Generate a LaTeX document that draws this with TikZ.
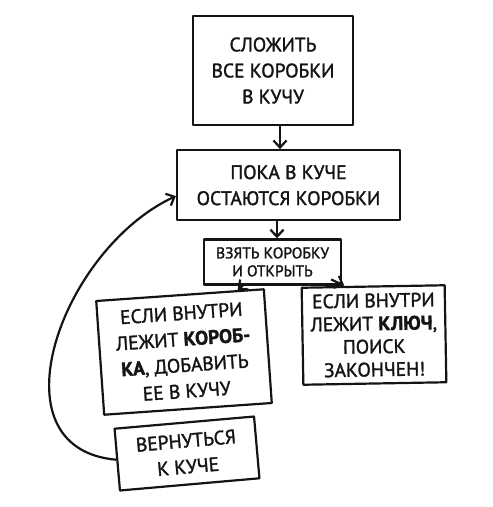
\documentclass[tikz,border=0pt]{standalone}
\usepackage{fontspec}
\setmainfont{PT Sans}[FakeBold=1.6]
\usetikzlibrary{arrows.meta,positioning,calc}
\definecolor{InkDark}{HTML}{141414}

\begin{document}
\begin{tikzpicture}[
    x=1pt, y=1pt,
    node distance=18pt,
    pilebox/.style={draw=InkDark, line width=2.2pt, line join=round, align=center,
                 inner sep=4pt, text=InkDark, font=\fontsize{19.5}{26}\selectfont},
    smallbox/.style={pilebox, font=\fontsize{15.5}{18}\selectfont},
    keybox/.style={pilebox, font=\fontsize{19.5}{23}\selectfont},
    arrow/.style={-{Straight Barb[length=7pt,width=13pt]}, line width=2.2pt, draw=InkDark}
]
\useasboundingbox (0,0) rectangle (493,-507);

\node[pilebox, minimum width=160pt, minimum height=109pt] (pile) at (273,-70.5) {СЛОЖИТЬ\\ВСЕ КОРОБКИ\\В КУЧУ};
\node[pilebox, minimum width=223pt, minimum height=70pt, below=23pt of pile, xshift=15.5pt] (loop) {ПОКА В КУЧЕ\\ОСТАЮТСЯ КОРОБКИ};
\node[smallbox, minimum width=137pt, minimum height=45pt, below=17pt of loop, xshift=-16pt] (open) {ВЗЯТЬ КОРОБКУ\\И ОТКРЫТЬ};
\node[pilebox, minimum width=168pt, minimum height=114pt, rotate=4] (inner) at (184,-352) {ЕСЛИ ВНУТРИ\\ЛЕЖИТ \textbf{КОРОБ-}\\\textbf{КА}, ДОБАВИТЬ\\ЕЕ В КУЧУ};
\node[keybox, minimum width=143pt, minimum height=97pt, rotate=1] (found) at (374,-335) {ЕСЛИ ВНУТРИ\\ЛЕЖИТ \textbf{КЛЮЧ},\\ПОИСК\\ЗАКОНЧЕН!};
\node[pilebox, minimum width=140pt, minimum height=62pt, rotate=5] (back) at (187,-453.5) {ВЕРНУТЬСЯ\\К КУЧЕ};

\draw[arrow] ([xshift=7pt]pile.south) -- ([xshift=7pt]pile.south |- loop.north);
\draw[arrow] ([xshift=-11.5pt]loop.south) -- ([xshift=-11.5pt]loop.south |- open.north);
\draw[arrow] ([xshift=-29.5pt]open.south) -- ($(inner.north)!0.68!(inner.north east)$);
\draw[arrow] ([xshift=-11pt,yshift=6pt]open.south east) -- ([xshift=-29pt]found.north);
\draw[arrow] (back.west) to[out=175, in=205, looseness=1.2] ($(loop.west)!0.3!(loop.south west)$);
\end{tikzpicture}
\end{document}
